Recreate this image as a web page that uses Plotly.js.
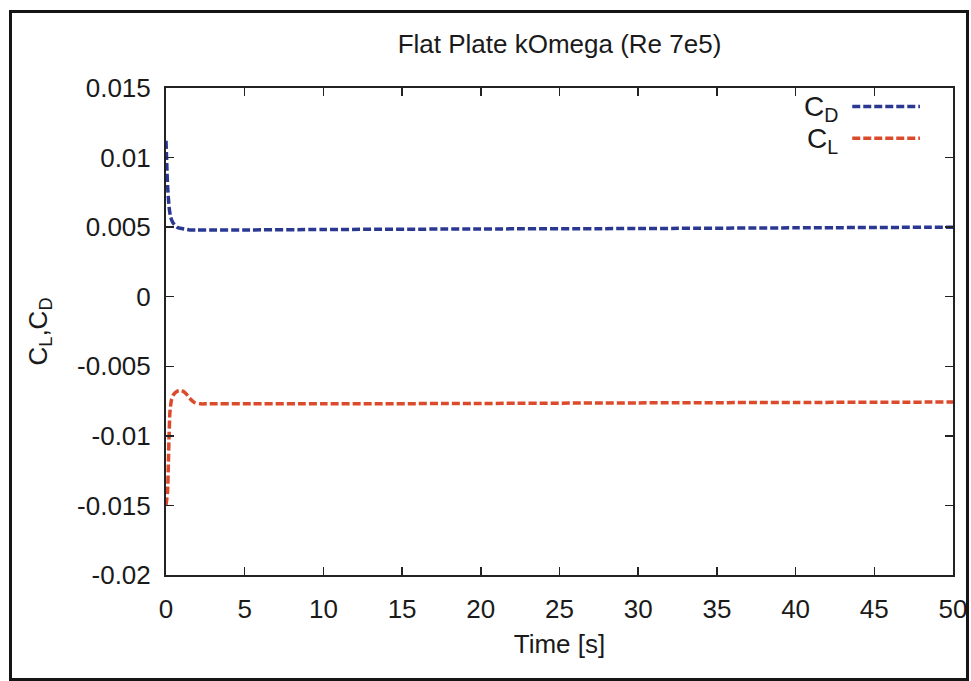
<!DOCTYPE html>
<html>
<head>
<meta charset="utf-8">
<script src="https://cdn.plot.ly/plotly-3.0.1.min.js"></script>
<style>
html,body{margin:0;padding:0;background:#fff;}
#chart{width:971px;height:681px;}
#frame{position:absolute;left:9px;top:10px;width:960px;height:671px;border:3px solid #151515;pointer-events:none;box-sizing:border-box;}
</style>
</head>
<body>
<div id="chart"></div>
<div id="frame"></div>
<script>
// Data
const timeCD = [0, 0.05, 0.1, 0.2, 0.3, 0.45, 0.7, 1.0, 1.5, 2.0, 3, 5, 10, 20, 30, 40, 50];
const valuesCD = [0.0112, 0.0095, 0.0080, 0.0064, 0.0057, 0.0053, 0.0050, 0.0049, 0.0048, 0.0048, 0.0048, 0.0048, 0.00483, 0.00487, 0.0049, 0.00495, 0.0050];
const timeCL = [0, 0.1, 0.15, 0.2, 0.25, 0.35, 0.5, 0.7, 0.9, 1.1, 1.3, 1.5, 1.8, 2.2, 2.6, 3, 5, 10, 20, 30, 40, 50];
const valuesCL = [-0.0150, -0.0140, -0.0120, -0.0098, -0.0083, -0.0074, -0.0070, -0.0068, -0.00675, -0.0068, -0.0070, -0.0073, -0.0076, -0.0077, -0.0077, -0.0077, -0.0077, -0.0077, -0.00767, -0.00763, -0.0076, -0.00757];
const yTickVals = [0.015, 0.01, 0.005, 0, -0.005, -0.01, -0.015, -0.02];
const yTickText = ["0.015", "0.01", "0.005", "0", "-0.005", "-0.01", "-0.015", "-0.02"];
const xTickVals = [0, 5, 10, 15, 20, 25, 30, 35, 40, 45, 50];
const xTickText = ["0", "5", "10", "15", "20", "25", "30", "35", "40", "45", "50"];
const seriesNames = ["C<sub>D</sub>", "C<sub>L</sub>"];
const seriesColors = ["#2b3892", "#dc4a2c"];

const FONT = "Liberation Sans Narrow, Liberation Sans, Arial, sans-serif";

const traces = [
  {x: timeCD, y: valuesCD, name: seriesNames[0], mode: "lines", line: {color: seriesColors[0], width: 3.5, dash: "8px,3px", shape: "spline", smoothing: 0.6}},
  {x: timeCL, y: valuesCL, name: seriesNames[1], mode: "lines", line: {color: seriesColors[1], width: 3.5, dash: "8px,3px", shape: "spline", smoothing: 0.6}}
];

const axisCommon = {
  showgrid: false, zeroline: false, showline: true, linecolor: "#222", linewidth: 2,
  mirror: "ticks", ticks: "inside", ticklen: 8, tickwidth: 1.5, tickcolor: "#222",
  tickfont: {family: FONT, size: 26, color: "#1a1a1a"}
};

// custom legend (label on the left, line sample on the right)
const legY = [0.958, 0.893];
const annotations = seriesNames.map((n, i) => ({
  xref: "paper", yref: "paper", x: 0.857, y: legY[i], xanchor: "right", yanchor: "middle",
  text: n, showarrow: false, font: {family: FONT, size: 28, color: "#1a1a1a"}
}));
const shapes = seriesColors.map((c, i) => ({
  type: "line", xref: "paper", yref: "paper", x0: 0.872, x1: 0.958, y0: legY[i] + 0.004, y1: legY[i] + 0.004,
  line: {color: c, width: 3.5, dash: "8px,3px"}
}));

const layout = {
  width: 971, height: 681,
  margin: {l: 166, r: 18, t: 88, b: 106},
  paper_bgcolor: "#fff", plot_bgcolor: "#fff",
  showlegend: false,
  title: {text: "Flat Plate kOmega (Re 7e5)", font: {family: FONT, size: 26, color: "#1a1a1a"}, x: 0.5, xref: "paper", xanchor: "center", y: 0.935, yanchor: "middle"},
  xaxis: Object.assign({}, axisCommon, {
    range: [0, 50], tickvals: xTickVals, ticktext: xTickText, ticklabelstandoff: 10,
    title: {text: "Time [s]", font: {family: FONT, size: 26, color: "#1a1a1a"}, standoff: 12}
  }),
  yaxis: Object.assign({}, axisCommon, {
    range: [-0.02, 0.015], tickvals: yTickVals, ticktext: yTickText, ticklabelstandoff: 8,
    title: {text: "C<sub>L</sub>,C<sub>D</sub>", font: {family: FONT, size: 26, color: "#1a1a1a"}, standoff: 22}
  }),
  annotations: annotations,
  shapes: shapes
};

Plotly.newPlot("chart", traces, layout, {staticPlot: true, displayModeBar: false});
</script>
</body>
</html>
